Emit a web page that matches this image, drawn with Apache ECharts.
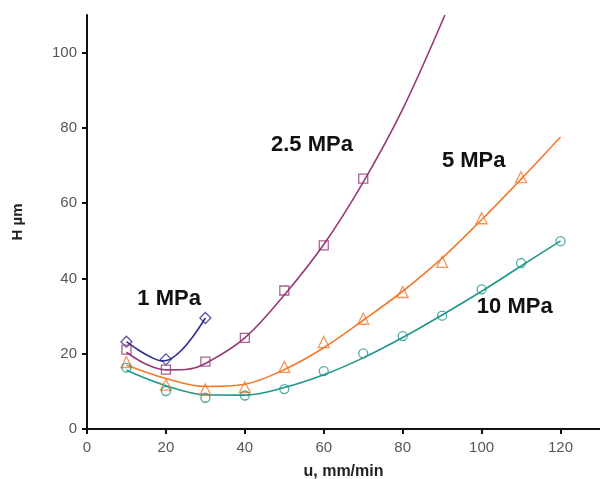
<!DOCTYPE html>
<html><head><meta charset="utf-8">
<script src="https://cdn.jsdelivr.net/npm/echarts@6/dist/echarts.min.js"></script>
<style>html,body{margin:0;padding:0;background:#fff;overflow:hidden}#c{width:600px;height:479px}</style>
</head><body><div id="c"></div>
<script>
// measured points [u, H]
var p1 = [[10, 23.2], [20, 18.5], [30, 29.5]];
var p25 = [[10, 21.1], [20, 15.8], [30, 17.9], [40, 24.2], [50, 36.8], [60, 48.8], [70, 66.5]];
var p5 = [[10, 17.8], [20, 11.8], [30, 10.5], [40, 11.1], [50, 16.5], [60, 23.1], [70, 29.3], [80, 36.4], [90, 44.4], [100, 56.0], [110, 66.9]];
var p10 = [[10, 16.3], [20, 10.1], [30, 8.3], [40, 8.9], [50, 10.6], [60, 15.4], [70, 20.1], [80, 24.7], [90, 30.1], [100, 37.1], [110, 44.1], [120, 49.9]];
// fitted curves
var f1 = [[10, 23.2], [13, 21.0], [16, 19.2], [19, 18.1], [21, 18.5], [24, 21.0], [27, 24.8], [30, 29.5]];
var f25 = [[10, 20.4], [15, 17.2], [20, 15.7], [25, 15.8], [30, 17.4], [40, 24.2], [50, 35.6], [60, 49.0], [70, 65.6], [80, 85.0], [90.7, 110]];
var f5 = [[10, 17.0], [20, 13.4], [30, 11.3], [40, 11.9], [50, 15.8], [60, 21.6], [70, 28.9], [80, 36.6], [90, 45.4], [100, 55.6], [110, 66.4], [120, 77.6]];
var f10 = [[10, 15.6], [20, 11.5], [30, 9.1], [40, 9.0], [50, 11.0], [60, 14.4], [70, 18.9], [80, 24.3], [90, 30.3], [100, 36.6], [110, 43.3], [120, 50.0]];
var xTicks = [0, 20, 40, 60, 80, 100, 120];
var yTicks = [0, 20, 40, 60, 80, 100];
var names = ['1 MPa', '2.5 MPa', '5 MPa', '10 MPa'];
var labelPos = [[20.8, 34.5], [57, 75.5], [98, 71.1], [108.4, 32.4]];

var colors = ['#2E2E8E', '#953A74', '#F47B2E', '#20978A'];
var symbols = ['diamond', 'rect', 'triangle', 'circle'];
var symSize = [11, 9, 11, 9];
var pts = [p1, p25, p5, p10];
var fits = [f1, f25, f5, f10];

var series = [];
for (var i = 0; i < 4; i++) {
  series.push({
    type: 'line', data: fits[i], smooth: 0.35, showSymbol: false, symbol: 'none',
    lineStyle: {color: colors[i], width: 1.6}, z: 2,
    markPoint: {
      symbol: 'circle', symbolSize: 0,
      data: [{coord: labelPos[i], value: names[i]}],
      label: {show: true, position: 'inside', formatter: names[i], color: '#111',
        fontFamily: 'Liberation Sans, Arial, sans-serif', fontWeight: 'bold', fontSize: 22}
    }
  });
  series.push({
    type: 'scatter', data: pts[i], symbol: symbols[i], symbolSize: symSize[i],
    itemStyle: {color: 'rgba(255,255,255,0)', borderColor: colors[i], borderWidth: 1.3}, z: 3
  });
}

var chart = echarts.init(document.getElementById('c'));
chart.setOption({
  animation: false,
  backgroundColor: '#fff',
  grid: {left: 87, right: 0, top: 15, bottom: 50, containLabel: false, outerBoundsMode: 'none'},
  xAxis: {
    type: 'value', min: 0, max: 130, interval: 20,
    name: 'u, mm/min', nameLocation: 'middle', nameGap: 35,
    nameTextStyle: {fontFamily: 'Liberation Sans, Arial, sans-serif', fontWeight: 'bold', fontSize: 16, color: '#222'},
    axisLine: {lineStyle: {color: '#111', width: 2}},
    axisTick: {show: true, length: 5, lineStyle: {color: '#111', width: 2}, customValues: xTicks},
    axisLabel: {customValues: xTicks, margin: 11, color: '#555', fontSize: 15, fontFamily: 'Liberation Sans, Arial, sans-serif'},
    splitLine: {show: false}
  },
  yAxis: {
    type: 'value', min: 0, max: 110, interval: 20,
    name: 'H µm', nameLocation: 'middle', nameGap: 62, nameRotate: 90,
    nameTextStyle: {fontFamily: 'Liberation Sans, Arial, sans-serif', fontWeight: 'bold', fontSize: 15, color: '#222'},
    axisLine: {lineStyle: {color: '#111', width: 2}},
    axisTick: {show: true, length: 5, lineStyle: {color: '#111', width: 2}, customValues: yTicks},
    axisLabel: {customValues: yTicks, margin: 10, color: '#555', fontSize: 15, fontFamily: 'Liberation Sans, Arial, sans-serif'},
    splitLine: {show: false}
  },
  series: series
});
</script>
</body></html>
